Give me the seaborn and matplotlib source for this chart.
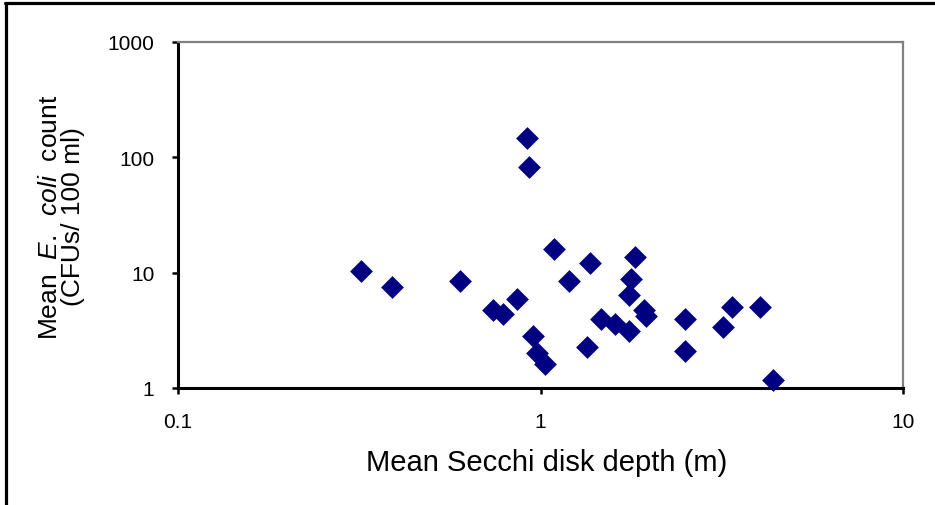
import matplotlib
matplotlib.use("Agg")
import matplotlib.pyplot as plt
from matplotlib.lines import Line2D
import seaborn as sns
import pandas as pd

# Data
secchi_depth = [0.32, 0.39, 0.60, 0.74, 0.79, 0.86, 0.92, 0.93, 0.955, 0.98,
                1.03, 1.09, 1.20, 1.34, 1.37, 1.47, 1.61, 1.75, 1.75, 1.78,
                1.82, 1.93, 1.96, 2.50, 2.50, 3.18, 3.38, 4.02, 4.37]
ecoli_count = [10.3, 7.5, 8.4, 4.7, 4.4, 5.9, 148, 83, 2.8, 2.0,
               1.62, 16.0, 8.4, 2.25, 12.2, 4.0, 3.6, 3.1, 6.4, 8.9,
               13.7, 4.7, 4.2, 4.0, 2.1, 3.4, 5.0, 5.0, 1.17]
x_ticks = [0.1, 1, 10]
x_tick_labels = ["0.1", "1", "10"]
y_ticks = [1, 10, 100, 1000]
y_tick_labels = ["1", "10", "100", "1000"]

sns.set_style("white")
plt.rcParams["font.family"] = ["Liberation Sans", "DejaVu Sans"]
plt.rcParams["mathtext.fontset"] = "custom"
plt.rcParams["mathtext.rm"] = "Liberation Sans"
plt.rcParams["mathtext.it"] = "Liberation Sans:italic"
plt.rcParams["text.color"] = "black"
plt.rcParams["axes.labelcolor"] = "black"
plt.rcParams["xtick.color"] = "black"
plt.rcParams["ytick.color"] = "black"

df = pd.DataFrame({"depth": secchi_depth, "ecoli": ecoli_count})

fig = plt.figure(figsize=(9.35, 5.06), dpi=100)
ax = fig.add_axes([178 / 935, 1 - 389 / 506, (903 - 178) / 935, (389 - 43) / 506])

sns.scatterplot(data=df, x="depth", y="ecoli", ax=ax, marker="D", s=135,
                color="#000080", linewidth=0, clip_on=False, zorder=5)

ax.set_xscale("log")
ax.set_yscale("log")
ax.set_xlim(0.1, 10)
ax.set_ylim(1, 1000)
ax.set_xticks(x_ticks)
ax.set_xticklabels(x_tick_labels)
ax.set_yticks(y_ticks)
ax.set_yticklabels(y_tick_labels)
ax.minorticks_off()

ax.tick_params(axis="both", which="major", direction="out", length=4,
               width=1.8, color="black", labelcolor="black", labelsize=15,
               pad=13, bottom=True, left=True)

for side in ["left", "bottom"]:
    ax.spines[side].set_color("black")
    ax.spines[side].set_linewidth(2.2)
for side in ["top", "right"]:
    ax.spines[side].set_visible(True)
    ax.spines[side].set_color("#808080")
    ax.spines[side].set_linewidth(1.6)

ax.set_xlabel("Mean Secchi disk depth (m)", fontsize=21, color="black")
ax.xaxis.set_label_coords(0.509, -0.173)
ax.set_ylabel("Mean  $\\mathit{E.\\ \\ coli}$  count\n(CFUs/ 100 ml)", fontsize=19,
              linespacing=0.95, color="black")
ax.yaxis.set_label_coords(-0.128, 0.497)

# outer chart frame (top and left edges visible)
fig.add_artist(Line2D([5 / 935, 1.0], [1 - 4 / 506, 1 - 4 / 506],
                      transform=fig.transFigure, color="black", linewidth=2.3))
fig.add_artist(Line2D([6 / 935, 6 / 935], [0.0, 1 - 4 / 506],
                      transform=fig.transFigure, color="black", linewidth=2.3))

fig.savefig("out.png", dpi=100)
